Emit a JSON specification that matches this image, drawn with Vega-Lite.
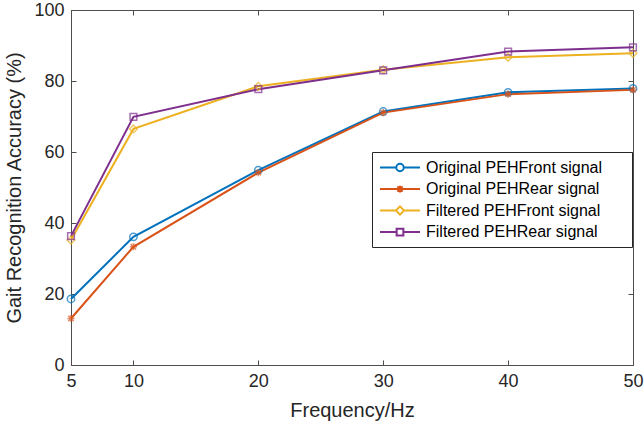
{
  "$schema": "https://vega.github.io/schema/vega-lite/v6.json",
  "autosize": "none",
  "width": 562,
  "height": 355,
  "padding": {"left": 71, "top": 10, "right": 11, "bottom": 61},
  "background": "white",
  "config": {
    "font": "Liberation Sans",
    "view": {"stroke": null},
    "axis": {"grid": false, "labelFlush": false, "domainColor": "#4d4d4d", "tickColor": "#4d4d4d", "labelColor": "#262626", "titleColor": "#262626", "labelFontSize": 18, "titleFontSize": 20, "titleFontWeight": "normal", "labelFont": "Liberation Sans", "titleFont": "Liberation Sans", "domainWidth": 1, "tickWidth": 1}
  },
  "data": {
    "values": [
      {"series": "Original PEHFront signal", "freq": 5, "acc": 18.6},
      {"series": "Original PEHFront signal", "freq": 10, "acc": 36.1},
      {"series": "Original PEHFront signal", "freq": 20, "acc": 54.9},
      {"series": "Original PEHFront signal", "freq": 30, "acc": 71.4},
      {"series": "Original PEHFront signal", "freq": 40, "acc": 76.8},
      {"series": "Original PEHFront signal", "freq": 50, "acc": 77.9},
      {"series": "Original PEHRear signal", "freq": 5, "acc": 13.1},
      {"series": "Original PEHRear signal", "freq": 10, "acc": 33.3},
      {"series": "Original PEHRear signal", "freq": 20, "acc": 54.2},
      {"series": "Original PEHRear signal", "freq": 30, "acc": 71.1},
      {"series": "Original PEHRear signal", "freq": 40, "acc": 76.3},
      {"series": "Original PEHRear signal", "freq": 50, "acc": 77.5},
      {"series": "Filtered PEHFront signal", "freq": 5, "acc": 35.2},
      {"series": "Filtered PEHFront signal", "freq": 10, "acc": 66.5},
      {"series": "Filtered PEHFront signal", "freq": 20, "acc": 78.5},
      {"series": "Filtered PEHFront signal", "freq": 30, "acc": 83.2},
      {"series": "Filtered PEHFront signal", "freq": 40, "acc": 86.7},
      {"series": "Filtered PEHFront signal", "freq": 50, "acc": 87.8},
      {"series": "Filtered PEHRear signal", "freq": 5, "acc": 36.3},
      {"series": "Filtered PEHRear signal", "freq": 10, "acc": 69.9},
      {"series": "Filtered PEHRear signal", "freq": 20, "acc": 77.7},
      {"series": "Filtered PEHRear signal", "freq": 30, "acc": 83.0},
      {"series": "Filtered PEHRear signal", "freq": 40, "acc": 88.3},
      {"series": "Filtered PEHRear signal", "freq": 50, "acc": 89.5}
    ]
  },
  "resolve": {"axis": {"x": "independent", "y": "independent"}},
  "layer": [
    {
      "mark": {"type": "line", "strokeWidth": 2},
      "encoding": {
        "x": {"field": "freq", "type": "quantitative", "scale": {"domain": [5, 50], "nice": false, "zero": false},
              "axis": {"orient": "bottom", "values": [5, 10, 20, 30, 40, 50], "tickSize": -5, "labelPadding": 12, "title": "Frequency/Hz", "titlePadding": 10}},
        "y": {"field": "acc", "type": "quantitative", "scale": {"domain": [0, 100], "nice": false},
              "axis": {"orient": "left", "values": [0, 20, 40, 60, 80, 100], "tickSize": -5, "labelPadding": 12, "title": "Gait Recognition Accuracy (%)", "titlePadding": 9}},
        "color": {"field": "series", "type": "nominal",
          "scale": {"domain": ["Original PEHFront signal", "Original PEHRear signal", "Filtered PEHFront signal", "Filtered PEHRear signal"], "range": ["#0072BD", "#D95319", "#EDB120", "#7E2F8E"]},
          "legend": {
            "title": null, "orient": "none", "legendX": 301, "legendY": 142,
            "strokeColor": "#262626", "fillColor": "white", "padding": 7,
            "labelFontSize": 16, "labelColor": "#000000", "labelFont": "Liberation Sans", "labelLimit": 400,
            "symbolSize": 225, "symbolOffset": 12.5, "labelOffset": 17.5, "rowPadding": 4.5,
            "symbolStrokeWidth": 2,
            "encode": {
              "labels": {"update": {"text": {"signal": "datum.label + '\u00a0\u00a0\u00a0\u00a0\u00a0\u2060'"}}},
              "symbols": {"update": {
              "fill": {"value": "transparent"},
              "shape": {"signal": "datum.value === 'Original PEHFront signal' ? 'M-2.67,0H-0.5M0.5,0H2.67M0.5,0A0.5,0.5 0 1 1 -0.5,0A0.5,0.5 0 1 1 0.5,0' : datum.value === 'Original PEHRear signal' ? 'M-2.67,0H2.67M0,-0.45V0.45M-0.35,-0.35L0.35,0.35M-0.35,0.35L0.35,-0.35' : datum.value === 'Filtered PEHFront signal' ? 'M-2.67,0H-0.55M0.55,0H2.67M0,-0.55L0.55,0L0,0.55L-0.55,0Z' : 'M-2.67,0H-0.45M0.45,0H2.67M-0.45,-0.45H0.45V0.45H-0.45Z'"}
            }}}
          }}
      }
    },
    {
      "transform": [{"filter": "datum.series === 'Original PEHFront signal'"}],
      "mark": {"type": "point", "shape": "circle", "filled": false, "strokeWidth": 1.5, "size": 55},
      "encoding": {
        "x": {"field": "freq", "type": "quantitative",
              "axis": {"orient": "top", "values": [5, 10, 20, 30, 40, 50], "tickSize": -5, "labels": false, "title": null}},
        "y": {"field": "acc", "type": "quantitative",
              "axis": {"orient": "right", "values": [0, 20, 40, 60, 80, 100], "tickSize": -5, "labels": false, "title": null}},
        "color": {"field": "series", "type": "nominal", "legend": null}
      }
    },
    {
      "transform": [{"filter": "datum.series === 'Original PEHRear signal'"}],
      "mark": {"type": "point", "shape": "M-1,0H1M0,-1V1M-0.75,-0.75L0.75,0.75M-0.75,0.75L0.75,-0.75", "filled": false, "strokeWidth": 1.5, "size": 50},
      "encoding": {
        "x": {"field": "freq", "type": "quantitative", "axis": null},
        "y": {"field": "acc", "type": "quantitative", "axis": null},
        "color": {"field": "series", "type": "nominal", "legend": null}
      }
    },
    {
      "transform": [{"filter": "datum.series === 'Filtered PEHFront signal'"}],
      "mark": {"type": "point", "shape": "diamond", "filled": false, "strokeWidth": 1.5, "size": 60},
      "encoding": {
        "x": {"field": "freq", "type": "quantitative", "axis": null},
        "y": {"field": "acc", "type": "quantitative", "axis": null},
        "color": {"field": "series", "type": "nominal", "legend": null}
      }
    },
    {
      "transform": [{"filter": "datum.series === 'Filtered PEHRear signal'"}],
      "mark": {"type": "point", "shape": "square", "filled": false, "strokeWidth": 1.5, "size": 45},
      "encoding": {
        "x": {"field": "freq", "type": "quantitative", "axis": null},
        "y": {"field": "acc", "type": "quantitative", "axis": null},
        "color": {"field": "series", "type": "nominal", "legend": null}
      }
    }
  ]
}
